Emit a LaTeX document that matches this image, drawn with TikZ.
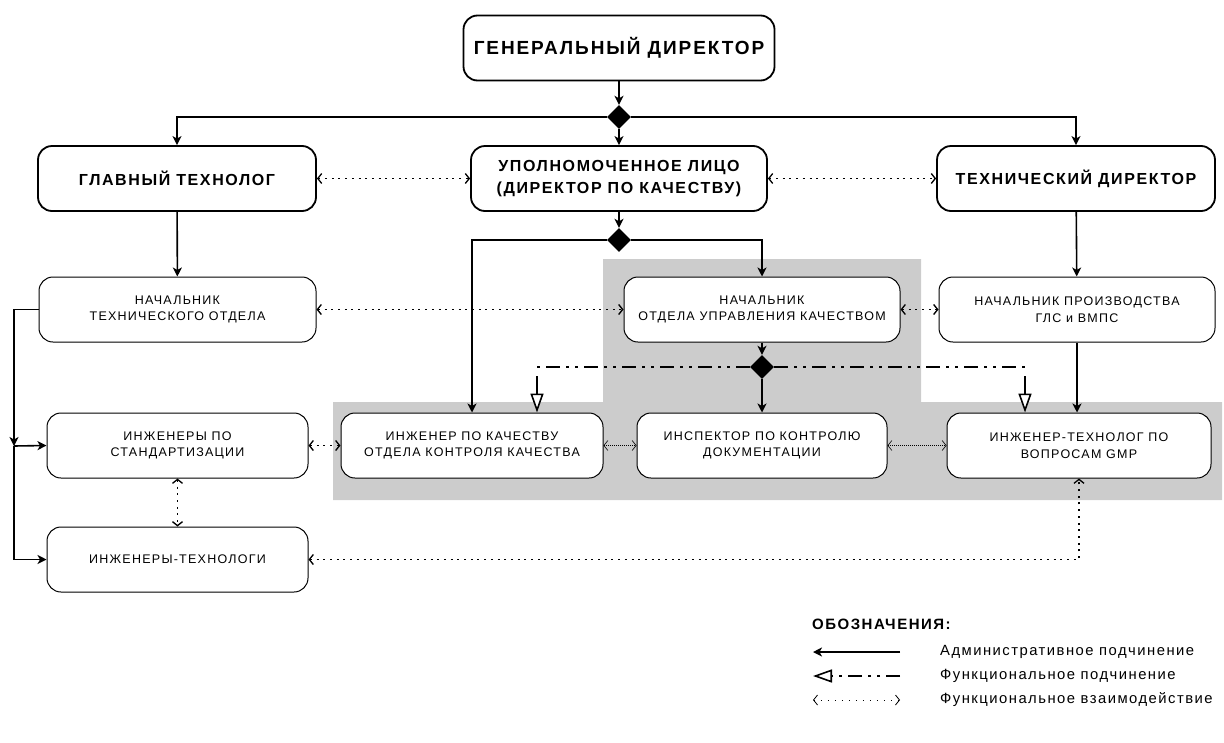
\documentclass[tikz,border=0pt]{standalone}
\usepackage{fontspec}
\setmainfont{Liberation Sans}[LetterSpace=10]
\usetikzlibrary{
  positioning,
  arrows.meta,
  calc,
  shapes.geometric
}
\definecolor{qagrey}{HTML}{CCCCCC}

\begin{document}
\begin{tikzpicture}[
  x=1pt, y=-1pt,
  topbox/.style={draw, line width=1.8pt, rounded corners=14pt, fill=white, align=center,
                 minimum height=65pt, inner sep=2pt, font=\fontsize{16}{22}\selectfont\bfseries},
  subbox/.style={draw, line width=1pt, rounded corners=14pt, fill=white, align=center,
                 minimum height=65pt, inner sep=2pt, font=\fontsize{12.5}{16.5}\selectfont},
  knot/.style={diamond, fill=black, inner sep=0pt, minimum width=24pt, minimum height=24pt},
  adm/.style={line width=1.6pt, -{Stealth[length=9pt,width=9pt,inset=2.5pt]}},
  func/.style={line width=1.6pt, dash pattern=on 14pt off 6pt on 3pt off 6pt on 3pt off 6pt},
  funcarr/.style={line width=1.6pt, -{Triangle[open,fill=white,length=19pt,width=13pt]}},
  link/.style={line width=1.3pt, dash pattern=on 2pt off 4.7pt,
               {Straight Barb[length=4pt,width=10pt]}-{Straight Barb[length=4pt,width=10pt]}},
  thinlink/.style={line width=0.6pt, dash pattern=on 1pt off 1pt,
                   {Straight Barb[length=4pt,width=10pt]}-{Straight Barb[length=4pt,width=10pt]}},
  leglink/.style={line width=0.8pt, dash pattern=on 1pt off 6pt,
                  {Straight Barb[length=4pt,width=10pt]}-{Straight Barb[length=4pt,width=10pt]}},
  legtext/.style={anchor=west, inner sep=0pt, font=\fontsize{14.8}{18}\selectfont}
]
  \useasboundingbox (0,0) rectangle (1224,742);

  % Quality area
  \fill[qagrey] (333,402) -- (603,402) -- (603,259) -- (921,259) -- (921,402)
    -- (1222,402) -- (1222,500) -- (333,500) -- cycle;

  % Top level
  \node[topbox, minimum width=311pt, font=\fontsize{19}{24}\selectfont\bfseries] (gd) at (619,48) {ГЕНЕРАЛЬНЫЙ ДИРЕКТОР};
  \node[topbox, minimum width=278pt] (gt) at (177,178.5) {ГЛАВНЫЙ ТЕХНОЛОГ};
  \node[topbox, minimum width=296pt] (ul) at (619,178.5) {УПОЛНОМОЧЕННОЕ ЛИЦО\\(ДИРЕКТОР ПО КАЧЕСТВУ)};
  \node[topbox, minimum width=278pt] (td) at (1076,178.5) {ТЕХНИЧЕСКИЙ ДИРЕКТОР};

  % Heads of departments
  \node[subbox, minimum width=277pt] (hto) at (177.5,309.5) {НАЧАЛЬНИК\\ТЕХНИЧЕСКОГО ОТДЕЛА};
  \node[subbox, minimum width=276pt] (houk) at (762,309.5) {НАЧАЛЬНИК\\ОТДЕЛА УПРАВЛЕНИЯ КАЧЕСТВОМ};
  \node[subbox, minimum width=276pt] (hp) at (1077,309.5) {НАЧАЛЬНИК ПРОИЗВОДСТВА\\ГЛС и ВМПС};

  % Staff
  \node[subbox, minimum width=261pt] (ips) at (177.5,445.5) {ИНЖЕНЕРЫ ПО\\СТАНДАРТИЗАЦИИ};
  \node[subbox, minimum width=262pt] (ikokk) at (472,445.5) {ИНЖЕНЕР ПО КАЧЕСТВУ\\ОТДЕЛА КОНТРОЛЯ КАЧЕСТВА};
  \node[subbox, minimum width=250pt] (ikd) at (762,445.5) {ИНСПЕКТОР ПО КОНТРОЛЮ\\ДОКУМЕНТАЦИИ};
  \node[subbox, minimum width=264pt] (itgmp) at (1079,445.5) {ИНЖЕНЕР-ТЕХНОЛОГ ПО\\ВОПРОСАМ GMP};
  \node[subbox, minimum width=261pt] (it) at (177.5,559.5) {ИНЖЕНЕРЫ-ТЕХНОЛОГИ};

  % Branch points
  \node[knot] (k1) at (619,117) {};
  \node[knot] (k2) at (619,240) {};
  \node[knot] (k3) at (762,367) {};

  % Administrative lines
  \draw[adm] (gd) -- (k1);
  \draw[adm] (k1) -- (ul);
  \draw[adm] (k1.west) -| (gt.north);
  \draw[adm] (k1.east) -| (td.north);
  \draw[adm] (ul) -- (k2);
  \draw[adm] (k2.west) -| (ikokk.north);
  \draw[adm] (k2.east) -| (houk.north);
  \draw[adm] (gt) -- (hto);
  \draw[adm] (td) -- (hp);
  \draw[adm] (hp.south) -- (hp.south |- itgmp.north);
  \draw[adm] (houk) -- (k3);
  \draw[adm] (k3) -- (ikd);
  \coordinate (trunk) at (14,446);
  \draw[adm] (hto.west) -| (trunk);
  \draw[adm] (trunk) -- (ips.west);
  \draw[adm] (trunk) |- (it.west);

  % Functional lines
  \coordinate (fl) at (537,367);
  \coordinate (fr) at (1025,367);
  \draw[func] (k3.west) -- (fl);
  \draw[func] (k3.east) -- (fr);
  \draw[funcarr] ($(fl)+(0,9)$) -- (fl |- ikokk.north);
  \draw[funcarr] ($(fr)+(0,9)$) -- (fr |- itgmp.north);

  % Interaction
  \draw[link] (gt) -- (ul);
  \draw[link] (ul) -- (td);
  \draw[link] (hto) -- (houk);
  \draw[link] (houk) -- (hp);
  \draw[link] (ips) -- (ikokk);
  \draw[thinlink] (ikokk) -- (ikd);
  \draw[thinlink] (ikd) -- (itgmp);
  \draw[link] (ips) -- (it);
  \draw[link] (it.east) -| (itgmp.south);

  % Legend
  \node[anchor=west, inner sep=0pt, font=\fontsize{15}{18}\selectfont\bfseries] (legtitle) at (812,624) {ОБОЗНАЧЕНИЯ:};
  \coordinate (la1) at (813,652); \coordinate (lb1) at (900,652);
  \coordinate (la2) at (813,676); \coordinate (lb2) at (900,676);
  \coordinate (la3) at (813,700); \coordinate (lb3) at (900,700);
  \draw[adm] (lb1) -- (la1);
  \draw[func, -{Triangle[open,fill=white,length=19pt,width=13pt]}] (lb2) -- (la2);
  \draw[leglink] (la3) -- (lb3);
  \node[legtext] (leg1) at (940,652) {Административное подчинение};
  \node[legtext] (leg2) at (940,676) {Функциональное подчинение};
  \node[legtext] (leg3) at (940,700) {Функциональное взаимодействие};
\end{tikzpicture}
\end{document}
